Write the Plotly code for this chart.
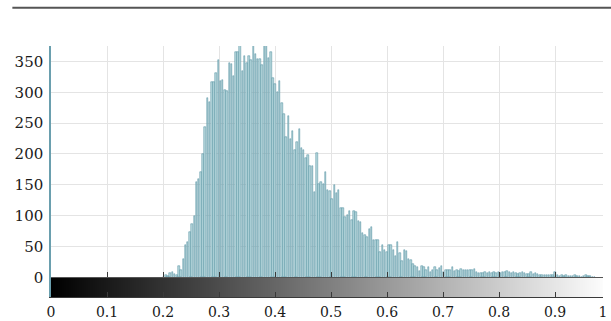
import numpy as np
import plotly.graph_objects as go

# ---- data: luminance histogram, 256 bins over [0, 1] ----
n_bins = 256
counts_0_51 = [0] * 51 + [1]
counts_52_68 = [3, 2, 7, 8, 6, 4, 18, 12, 30, 52, 57, 73, 87, 100, 155, 159, 170]
counts_69_106 = [200, 244, 291, 284, 317, 316, 332, 352, 319, 320,
                 303, 302, 347, 346, 327, 365, 366, 378, 335, 358,
                 347, 358, 352, 378, 362, 354, 354, 344, 378, 378,
                 355, 366, 323, 314, 300, 318, 282, 264]
counts_107_154 = [227, 262, 224, 237, 207, 220, 241, 210, 206, 194,
                  199, 180, 180, 138, 201, 152, 155, 151, 171, 141,
                  140, 127, 150, 136, 141, 112, 112, 97, 101, 107,
                  93, 107, 106, 92, 89, 71, 69, 65, 78, 82,
                  60, 61, 60, 41, 52, 45, 41, 52]
counts_155_248 = [52, 45, 35, 57, 40, 27, 44, 42, 30, 28,
                  22, 19, 16, 10, 18, 16, 12, 16, 9, 12,
                  16, 12, 15, 18, 9, 12, 12, 11, 16, 10,
                  12, 10, 14, 11, 12, 11, 12, 11, 14, 9,
                  7, 7, 7, 9, 7, 8, 7, 9, 7, 8,
                  7, 8, 9, 10, 8, 7, 9, 7, 6, 7,
                  8, 7, 6, 6, 8, 5, 7, 6, 4, 3,
                  3, 4, 3, 4, 3, 8, 3, 2, 3, 2,
                  3, 2, 2, 2, 4, 2, 2, 1, 2, 3,
                  2, 2, 1, 1]
counts_249_255 = [0] * 7
counts = counts_0_51 + counts_52_68 + counts_69_106 + counts_107_154 + counts_155_248 + counts_249_255

x_tick_vals = [0, 0.1, 0.2, 0.3, 0.4, 0.5, 0.6, 0.7, 0.8, 0.9]
x_tick_text = ["0", "0.1", "0.2", "0.3", "0.4", "0.5", "0.6", "0.7", "0.8", "0.9"]
x_end = 0.9857
x_end_label = "1"
y_tick_vals = [0, 50, 100, 150, 200, 250, 300, 350]
y_range = [-32, 375]
gradient_band = [-32, 0]

edges = np.linspace(0, 1, n_bins + 1)
centers = (edges[:-1] + edges[1:]) / 2
bar_heights = [c if c > 0 else None for c in counts]

font_y = dict(family="DejaVu Serif", size=15, color="#1a1a1a")
font_x = dict(family="DejaVu Serif", size=14, color="#1a1a1a")

fig = go.Figure()
fig.add_trace(go.Heatmap(
    x=edges, y=gradient_band, z=[centers],
    colorscale=[[0, "#000000"], [1, "#ffffff"]], zmin=0, zmax=1,
    showscale=False, hoverinfo="skip", xaxis="x2", yaxis="y",
))
fig.add_trace(go.Bar(
    x=centers, y=bar_heights, width=0.68 / n_bins,
    marker=dict(color="#b9d8de", line=dict(color="#4a899a", width=0.5)),
    xaxis="x", yaxis="y",
))

tv = x_tick_vals + [x_end]
tt = x_tick_text + [x_end_label]
fig.update_layout(
    width=611, height=321,
    margin=dict(l=51, r=8, t=46, b=24, autoexpand=False),
    paper_bgcolor="white", plot_bgcolor="white",
    showlegend=False, bargap=0, font=font_y,
    xaxis=dict(range=[0, x_end], tickvals=tv, ticktext=tt, automargin=False,
               showgrid=True, gridcolor="#e4e4e4", gridwidth=1,
               zeroline=False, showline=True, linecolor="#3a3a3a", linewidth=1,
               ticks="inside", ticklen=5, tickcolor="#3a3a3a",
               ticklabelstandoff=2, ticklabeloverflow="allow", tickfont=font_x),
    xaxis2=dict(range=[0, x_end], tickvals=tv, overlaying="x", anchor="free",
                position=(0 - y_range[0]) / (y_range[1] - y_range[0]), side="bottom",
                automargin=False,
                showgrid=False, zeroline=False, showline=True, linecolor="#555555", linewidth=1,
                ticks="inside", ticklen=5, tickcolor="#3a3a3a", showticklabels=False),
    yaxis=dict(range=y_range, tickvals=y_tick_vals, automargin=False,
               showgrid=True, gridcolor="#e4e4e4", gridwidth=1,
               zeroline=False, showline=True, linecolor="#6a9fae", linewidth=1.5,
               layer="below traces", ticks="", ticklabelstandoff=3, tickfont=font_y),
    shapes=[dict(type="line", xref="paper", yref="paper",
                 x0=-0.07, x1=1.02, y0=1.152, y1=1.152,
                 line=dict(color="#555555", width=2))],
)

fig.write_html("out.html", config={"displayModeBar": False},
               post_script="document.body.style.margin='0';document.body.style.overflow='hidden';")
